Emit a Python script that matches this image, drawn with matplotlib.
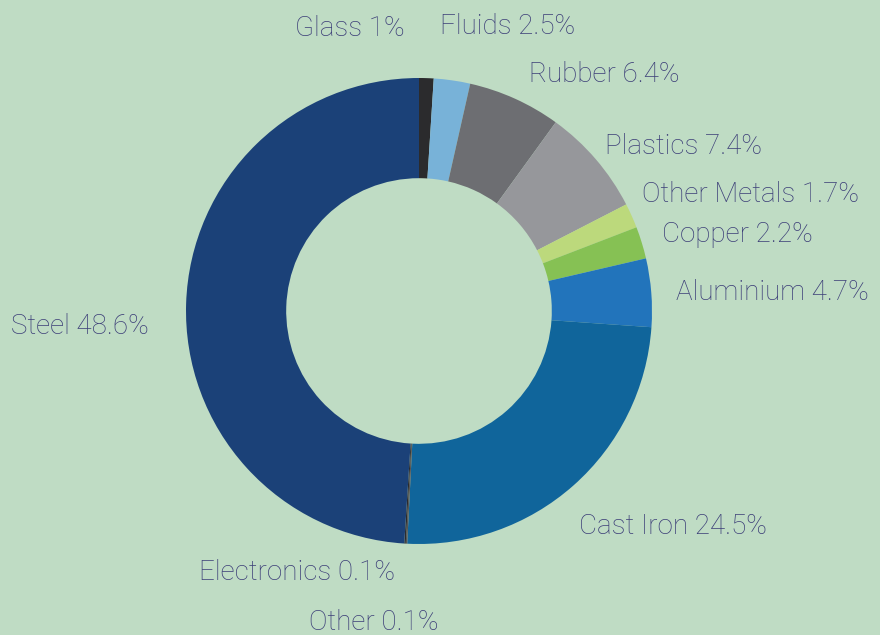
import matplotlib
matplotlib.use("Agg")
import matplotlib.pyplot as plt

categories = ["Glass", "Fluids", "Rubber", "Plastics", "Other Metals", "Copper",
              "Aluminium", "Cast Iron", "Other", "Electronics", "Steel"]
values = [1.0, 2.5, 6.4, 7.4, 1.7, 2.2, 4.7, 24.5, 0.1, 0.1, 48.6]
value_labels = ["1%", "2.5%", "6.4%", "7.4%", "1.7%", "2.2%", "4.7%", "24.5%", "0.1%", "0.1%", "48.6%"]
colors = ["#2b2b2d", "#78b2d8", "#6d6e72", "#96979b", "#bcd97c", "#86c154",
          "#2274bb", "#10659b", "#555555", "#2b2b2d", "#1b4178"]

# label anchor positions (pixel coords, left edge / vertical centre)
label_pos = {
    "Glass": (295, 29), "Fluids": (440, 26), "Rubber": (529, 75),
    "Plastics": (605, 147), "Other Metals": (642, 194), "Copper": (662, 235),
    "Aluminium": (676, 293), "Cast Iron": (579, 527), "Other": (309, 623),
    "Electronics": (199, 573), "Steel": (11, 327),
}

W, H = 880, 635
bg = "#bfdcc4"
fig = plt.figure(figsize=(W / 100, H / 100), dpi=100, facecolor=bg)
ax = fig.add_axes([0, 0, 1, 1])
ax.set_facecolor(bg)

cx, cy, r = 419, H - 311, 233
ax.pie(values, colors=colors, startangle=90, counterclock=False,
       center=(cx, cy), radius=r, frame=True,
       wedgeprops=dict(width=r * 0.43, linewidth=0))
ax.set_xlim(0, W)
ax.set_ylim(0, H)
ax.set_aspect("equal")
ax.axis("off")

for name, lab in zip(categories, value_labels):
    px, py = label_pos[name]
    ax.text(px, H - py, f"{name} {lab}", ha="left", va="center",
            fontsize=20, color="#3c3e78", family="Roboto", fontweight="light")

fig.savefig("out.png", dpi=100, facecolor=bg)
